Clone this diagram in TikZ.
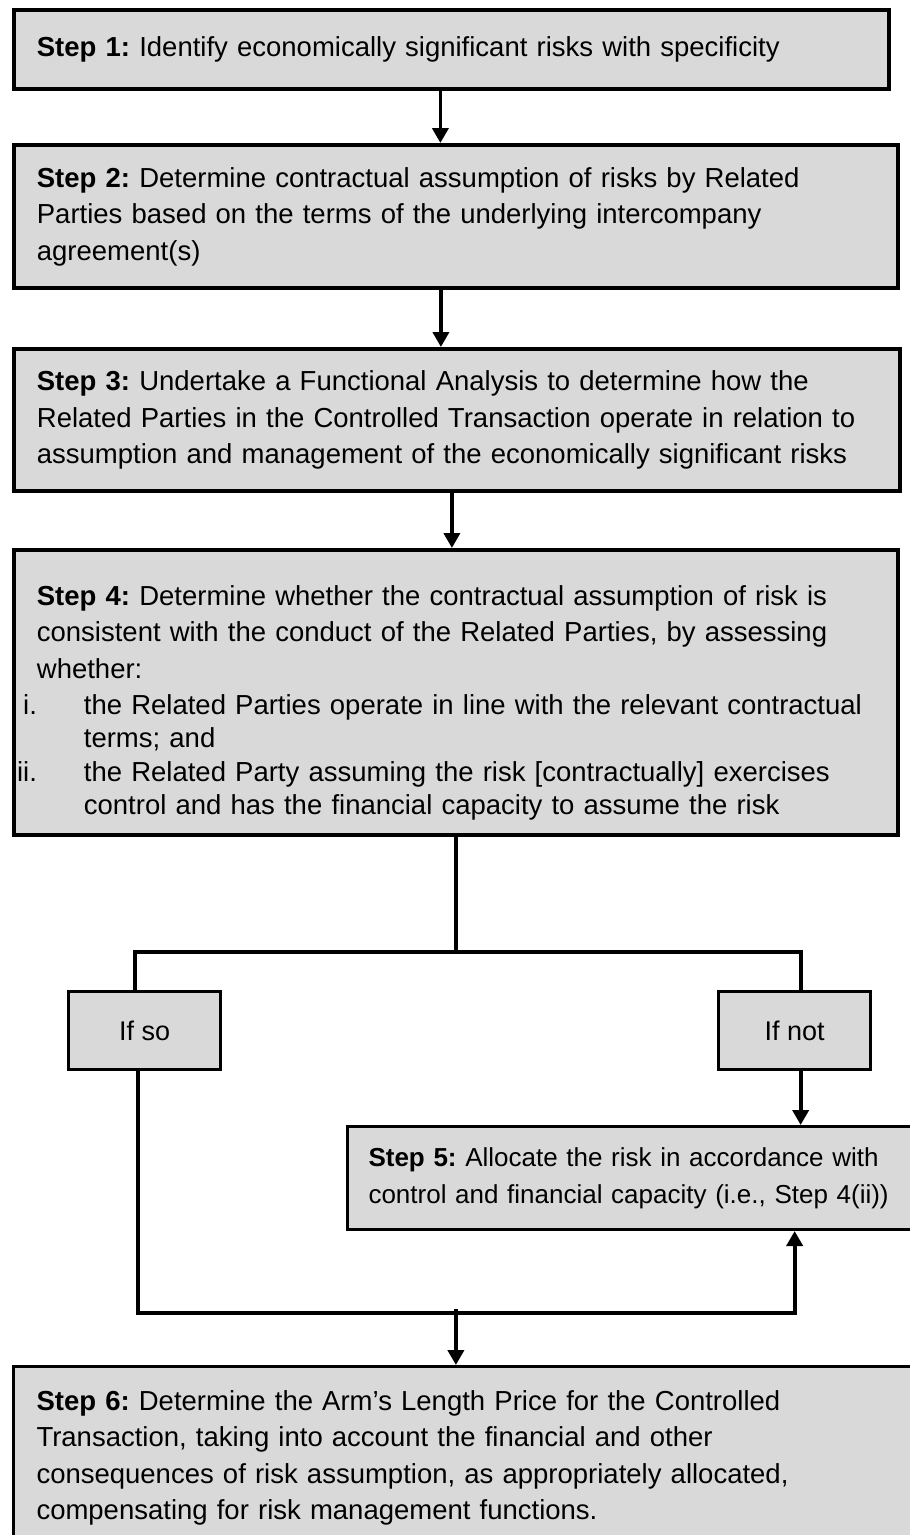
\documentclass[tikz,border=0pt]{standalone}
\usepackage{fontspec}
\setmainfont{Liberation Sans}
\usepackage{xcolor}
\usetikzlibrary{calc,arrows.meta,positioning}

\definecolor{boxgrey}{HTML}{D9D9D9}
\newcommand{\itemgap}{\hspace*{47pt}}
\newcommand{\itemlabel}[1]{\leavevmode\llap{#1}\itemgap}

\tikzset{
  stepbox/.style={draw=black, line width=3.8pt, fill=boxgrey, rectangle, anchor=north west,
    align=left, inner xsep=23pt, inner ysep=0pt, font=\fontsize{27.5}{36.5}\selectfont\frenchspacing},
  choicebox/.style={draw=black, line width=3.3pt, fill=boxgrey, rectangle, anchor=north west,
    minimum width=152pt, minimum height=78pt, inner sep=0pt, font=\fontsize{27}{32}\selectfont},
  link/.style={line width=3.8pt},
  flow/.style={line width=3.8pt, -{Triangle[length=15pt,width=16pt]}}
}

\begin{document}
\begin{tikzpicture}[x=1pt,y=-1pt]
            \useasboundingbox (0,0) rectangle (910,1535);
            \clip (0,0) rectangle (910,1535);
            \fill[white] (0,0) rectangle (910,1535);
            \node[stepbox, minimum width=875pt, minimum height=79pt, text width=829pt] (step1) at (12,8)
              {\textbf{Step 1:} Identify economically significant risks with specificity};
            \node[stepbox, minimum width=884pt, minimum height=143pt, text width=838pt] (step2) at (12,143)
              {\textbf{Step 2:} Determine contractual assumption of risks by Related\\
               Parties based on the terms of the underlying intercompany\\
               agreement(s)};
            \node[stepbox, minimum width=886pt, minimum height=142pt, text width=840pt] (step3) at (12,347)
              {\textbf{Step 3:} Undertake a Functional Analysis to determine how the\\
               Related Parties in the Controlled Transaction operate in relation to\\
               assumption and management of the economically significant risks};
            \node[stepbox, minimum width=884pt, minimum height=285pt, text width=838pt] (step4) at (12,548)
              {\rule{0pt}{40pt}\textbf{Step 4:} Determine whether the contractual assumption of risk is\\
               consistent with the conduct of the Related Parties, by assessing\\
               whether:\\
               \itemlabel{i.}the Related Parties operate in line with the relevant contractual\\[-4pt]
               \itemgap terms; and\\[-2pt]
               \itemlabel{ii.}the Related Party assuming the risk [contractually] exercises\\[-4pt]
               \itemgap control and has the financial capacity to assume the risk};
            \node[choicebox] (ifso) at (67,990) {If so};
            \node[choicebox] (ifnot) at (717,990) {If not};
            \node[stepbox, line width=3pt, inner xsep=21pt, minimum width=620pt, minimum height=103pt, text width=578pt,
              font=\fontsize{26}{37}\selectfont\frenchspacing] (step5) at (346,1125)
              {\textbf{Step 5:} Allocate the risk in accordance with\\
               control and financial capacity (i.e., Step 4(ii))};
            \node[stepbox, line width=3pt, minimum width=920pt, minimum height=183pt, text width=874pt] (step6) at (12,1365)
              {\textbf{Step 6:} Determine the Arm’s Length Price for the Controlled\\
               Transaction, taking into account the financial and other\\
               consequences of risk assumption, as appropriately allocated,\\
               compensating for risk management functions.};
            \coordinate (fork) at ($(step4.south |- ifso.north)+(0,-38)$);
            \coordinate (join) at ($(step4.south |- step6.north)+(0,-52)$);
            \draw[flow] ([xshift=-11pt]step1.south) -- ([xshift=-11pt]step1.south |- step2.north);
            \draw[flow] ([xshift=-15pt]step2.south) -- ([xshift=-15pt]step2.south |- step3.north);
            \draw[flow] ([xshift=-5pt]step3.south) -- ([xshift=-5pt]step3.south |- step4.north);
            \draw[link] (step4.south) -- (fork);
            \draw[link] ([xshift=-10pt]ifso.north) |- (fork) -| ([xshift=6pt]ifnot.north);
            \draw[flow] ([xshift=6pt]ifnot.south) -- ([xshift=6pt]ifnot.south |- step5.north);
            \draw[link] ([xshift=-7pt]ifso.south) |- (join);
            \draw[flow] (join) -| (ifnot.south |- step5.south);
            \draw[flow] ($(join)+(0,-4)$) -- (join |- step6.north);
\end{tikzpicture}
\end{document}
